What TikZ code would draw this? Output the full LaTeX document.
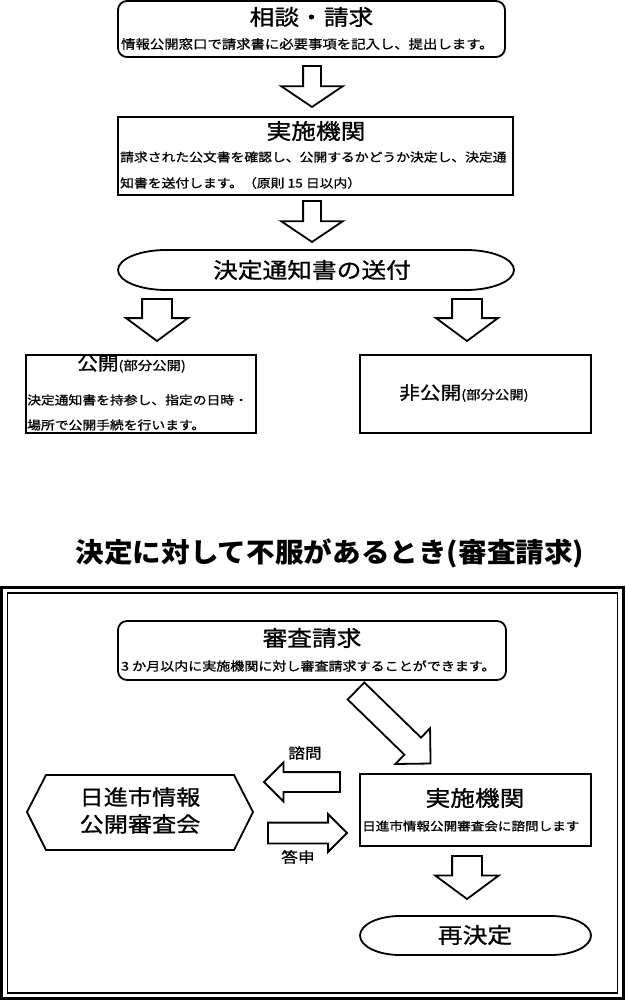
\documentclass[tikz,border=0pt]{standalone}
\usepackage{fontspec}
\newfontfamily\jp[FakeStretch=1.15,FakeBold=1]{Noto Sans CJK JP}
\newfontfamily\jph[FakeStretch=1.06]{Noto Sans CJK JP}
\usetikzlibrary{shapes.arrows}
\newcommand\jfs[1]{\fontsize{#1}{#1}\selectfont}
\begin{document}
\begin{tikzpicture}[x=1pt,y=-1pt,
  lw/.style={line width=1.8pt},
  box/.style={draw, line width=1.8pt, rectangle, inner sep=0pt},
  rbox/.style={box, rounded corners=9pt},
  barrow/.style={single arrow, draw, line width=1.8pt, fill=white, inner xsep=0pt, outer sep=0pt,
                 text width=0pt, text height=0pt, text depth=0pt, anchor=tail},
  ttl/.style={font=\jp\jfs{21.5}, inner sep=0pt},
  sub/.style={font=\jp\jfs{12.3}, inner sep=0pt, anchor=west},
  lbl/.style={font=\jp\jfs{14.5}, inner sep=0pt},
]
\useasboundingbox (0,0) rectangle (625,1000);

% ---------- upper flow ----------
\node[rbox, minimum width=387pt, minimum height=56pt] (b1) at (311.5,29) {};
\node[ttl] (b1t) at (311.5,17) {相談・請求};
\node[sub, font=\jp\jfs{12.5}] (b1s) at (121,44) {情報公開窓口で請求書に必要事項を記入し、提出します。};

\node[barrow, rotate=-90, minimum height=41pt, minimum width=60pt, inner ysep=8pt,
      single arrow head extend=22pt, single arrow tip angle=112] (a1) at (312,66) {};

\node[box, minimum width=395pt, minimum height=78pt] (b2) at (315.5,156) {};
\node[ttl] (b2t) at (316,131) {実施機関};
\node[sub, font=\jp\jfs{12}] (b2s1) at (120,157) {請求された公文書を確認し、公開するかどうか決定し、決定通};
\node[sub, font=\jp\jfs{12}] (b2s2) at (120,183) {知書を送付します。（原則 15 日以内）};

\node[barrow, rotate=-90, minimum height=41pt, minimum width=60pt, inner ysep=8pt,
      single arrow head extend=22pt, single arrow tip angle=112] (a2) at (312,201) {};

\draw[lw] (166,250) -- (466,250)
  .. controls (492.5,250) and (514,259) .. (514,270)
  .. controls (514,281) and (492.5,290) .. (466,290)
  -- (166,290)
  .. controls (139.5,290) and (118,281) .. (118,270)
  .. controls (118,259) and (139.5,250) .. (166,250) -- cycle;
\node[ttl] (e1) at (312,270) {決定通知書の送付};

\node[barrow, rotate=-90, minimum height=42pt, minimum width=60pt, inner ysep=14pt,
      single arrow head extend=16pt, single arrow tip angle=107] (a3l) at (157,299) {};
\node[barrow, rotate=-90, minimum height=42pt, minimum width=60pt, inner ysep=14pt,
      single arrow head extend=16pt, single arrow tip angle=107] (a3r) at (467,299) {};

\node[box, minimum width=230pt, minimum height=78pt] (bl) at (141,394) {};
\node[inner sep=0pt, anchor=west, font=\jp] (blt) at (77,364) {{\jfs{18}公開}{\jfs{12.5}(部分公開)}};
\node[sub, font=\jp\jfs{12}] (bls1) at (27,400) {決定通知書を持参し、指定の日時・};
\node[sub, font=\jp\jfs{12}] (bls2) at (27,425) {場所で公開手続を行います。};

\node[box, minimum width=231pt, minimum height=78pt] (br) at (475.5,394) {};
\node[inner sep=0pt, anchor=west, font=\jp] (brt) at (399,393) {{\jfs{18}非公開}{\jfs{12.5}(部分公開)}};

% ---------- heading ----------
\node[inner sep=0pt, font=\jph\bfseries\jfs{27}] (hd) at (330,553) {決定に対して不服があるとき(審査請求)};

% ---------- frame ----------
\draw[line width=3pt] (1.5,587.5) rectangle (623.5,998.5);
\draw[line width=1.8pt] (7.5,593) rectangle (617.5,993);

% ---------- lower flow ----------
\node[rbox, minimum width=388pt, minimum height=59pt] (b3) at (312,650.5) {};
\node[ttl] (b3t) at (312,638) {審査請求};
\node[sub, font=\jp\jfs{12.2}] (b3s) at (121,666) {3 か月以内に実施機関に対し審査請求することができます。};

\node[barrow, rotate=-44.2, minimum height=104pt, minimum width=48pt, inner ysep=11pt,
      single arrow head extend=13pt, single arrow tip angle=90] (ad) at (356,691) {};

\draw[lw] (27,812) -- (46,775) -- (234,775) -- (253,812) -- (234,850) -- (46,850) -- cycle;
\node[inner sep=0pt, align=center, font=\jp\fontsize{21}{27}\selectfont] (hex) at (140,810.5) {日進市情報\\公開審査会};

\node[box, minimum width=231pt, minimum height=72pt] (b4) at (475.5,810) {};
\node[ttl] (b4t) at (475,798) {実施機関};
\node[sub, font=\jp\jfs{11.8}] (b4s) at (362,826) {日進市情報公開審査会に諮問します};

\node[barrow, rotate=180, minimum height=76pt, minimum width=37pt, inner ysep=9pt,
      single arrow head extend=9.5pt, single arrow tip angle=90] (al) at (340,782) {};
\node[lbl] (lq) at (305,753) {諮問};
\node[barrow, rotate=0, minimum height=79pt, minimum width=36pt, inner ysep=9.5pt,
      single arrow head extend=8.5pt, single arrow tip angle=90] (ar) at (268,833) {};
\node[lbl] (la) at (298,857) {答申};

\node[barrow, rotate=-90, minimum height=43pt, minimum width=62pt, inner ysep=14pt,
      single arrow head extend=17pt, single arrow tip angle=107] (ab) at (467,856) {};

\draw[lw] (400,916) -- (551,916)
  .. controls (573.1,916) and (591,924.7) .. (591,935.5)
  .. controls (591,946.3) and (573.1,955) .. (551,955)
  -- (400,955)
  .. controls (377.9,955) and (360,946.3) .. (360,935.5)
  .. controls (360,924.7) and (377.9,916) .. (400,916) -- cycle;
\node[ttl] (rd) at (475,935) {再決定};
\end{tikzpicture}
\end{document}
